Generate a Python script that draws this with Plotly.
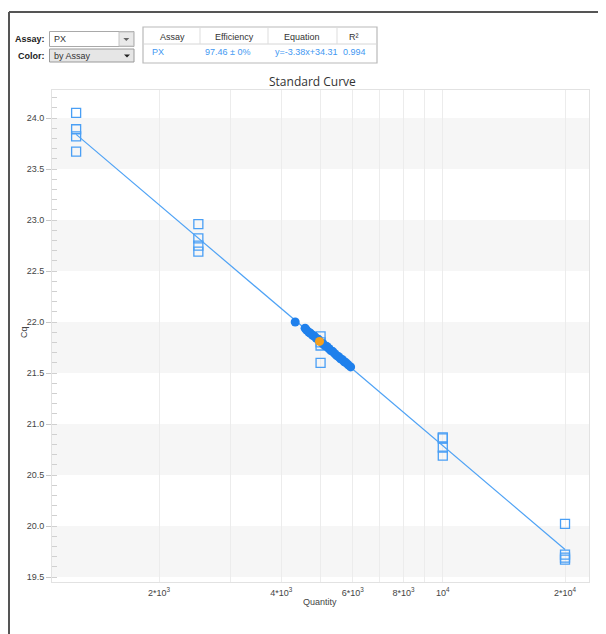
import plotly.graph_objects as go

# Page body has an 8px margin, so the figure is drawn 8px smaller and all
# reference pixel positions are shifted by 8px.
OFF = 8
W, H = 606 - OFF, 634 - OFF

# ---- Data ----
std_qty = [1250, 1250, 1250, 1250,
           2500, 2500, 2500, 2500,
           5000, 5000, 5000, 5000,
           10000, 10000, 10000, 10000,
           20000, 20000, 20000, 20000]
std_cq = [24.05, 23.89, 23.82, 23.67,
          22.96, 22.82, 22.75, 22.69,
          21.86, 21.80, 21.77, 21.60,
          20.87, 20.86, 20.77, 20.69,
          20.02, 19.72, 19.69, 19.67]

unk_qty = [4330, 4580, 4620, 4680, 4720, 4780, 4830, 4880, 4940, 5060,
           5120, 5180, 5240, 5300, 5360, 5420, 5480, 5540, 5600, 5660,
           5720, 5780, 5850, 5930]
unk_cq = [22.00, 21.94, 21.92, 21.90, 21.89, 21.87, 21.86, 21.84, 21.83, 21.79,
          21.77, 21.76, 21.74, 21.72, 21.71, 21.69, 21.67, 21.66, 21.64, 21.63,
          21.61, 21.60, 21.58, 21.56]

sel_qty = [4970]
sel_cq = [21.81]

fit_qty = [1250, 20000]
fit_cq = [23.84, 19.77]

y_ticks = [19.5, 20.0, 20.5, 21.0, 21.5, 22.0, 22.5, 23.0, 23.5, 24.0]
x_ticks = [2000, 4000, 6000, 8000, 10000, 20000]
x_ticktext = ["2*10<sup>3</sup>", "4*10<sup>3</sup>", "6*10<sup>3</sup>",
              "8*10<sup>3</sup>", "10<sup>4</sup>", "2*10<sup>4</sup>"]
x_minor = [3000, 5000, 7000, 9000]
bands = [(19.5, 20.0), (20.5, 21.0), (21.5, 22.0), (22.5, 23.0), (23.5, 24.0)]

table_header = ["Assay", "Efficiency", "Equation", "R²"]
table_row = ["PX", "97.46 ± 0%", "y=-3.38x+34.31", "0.994"]

# ---- helpers (reference page pixel -> paper) ----
def px(x):
    return (x - OFF) / W

def py(y):
    return 1 - (y - OFF) / H

FONT = "Liberation Sans, Arial, sans-serif"
BLUE = "#3f98f2"

fig = go.Figure()

fig.add_trace(go.Scatter(
    x=std_qty, y=std_cq, mode="markers",
    marker=dict(symbol="square-open", size=9, color="#4a9ff5", line=dict(width=1.3)),
    hoverinfo="x+y", showlegend=False))
fig.add_trace(go.Scatter(
    x=fit_qty, y=fit_cq, mode="lines",
    line=dict(color="#4ea2f5", width=1.2), hoverinfo="skip", showlegend=False))
fig.add_trace(go.Scatter(
    x=unk_qty, y=unk_cq, mode="markers",
    marker=dict(symbol="circle", size=9, color="#1f80ec"),
    showlegend=False))
fig.add_trace(go.Scatter(
    x=sel_qty, y=sel_cq, mode="markers",
    marker=dict(symbol="circle", size=9, color="#f5a01e"),
    showlegend=False))

shapes = []
for lo, hi in bands:
    shapes.append(dict(type="rect", xref="x domain", yref="y", x0=0, x1=1, y0=lo, y1=hi,
                       fillcolor="#f6f6f6", line=dict(width=0), layer="below"))

# outer frame
shapes.append(dict(type="line", xref="paper", yref="paper", x0=px(9), x1=1, y0=py(12), y1=py(12),
                   line=dict(color="#555555", width=2)))
shapes.append(dict(type="line", xref="paper", yref="paper", x0=px(9), x1=px(9), y0=py(12), y1=0,
                   line=dict(color="#555555", width=2)))

# combobox 1
shapes.append(dict(type="rect", xref="paper", yref="paper", x0=px(49.5), x1=px(134), y0=py(31.5), y1=py(46.5),
                   fillcolor="white", line=dict(color="#a9a9a9", width=1)))
shapes.append(dict(type="rect", xref="paper", yref="paper", x0=px(119), x1=px(133.5), y0=py(32), y1=py(46),
                   fillcolor="#e9e9e9", line=dict(color="#c4c4c4", width=1)))
tx, ty = 126.3, 39.5
shapes.append(dict(type="path", xref="paper", yref="paper",
                   path=f"M {px(tx-3)} {py(ty-1.5)} L {px(tx+3)} {py(ty-1.5)} L {px(tx)} {py(ty+1.5)} Z",
                   fillcolor="#666666", line=dict(width=0)))
# combobox 2
shapes.append(dict(type="rect", xref="paper", yref="paper", x0=px(49.5), x1=px(134), y0=py(49), y1=py(62),
                   fillcolor="#e6e6e6", line=dict(color="#9a9a9a", width=1)))
tx, ty = 127, 56
shapes.append(dict(type="path", xref="paper", yref="paper",
                   path=f"M {px(tx-3)} {py(ty-1.5)} L {px(tx+3)} {py(ty-1.5)} L {px(tx)} {py(ty+1.5)} Z",
                   fillcolor="#222222", line=dict(width=0)))

# table
shapes.append(dict(type="rect", xref="paper", yref="paper", x0=px(143), x1=px(377), y0=py(27), y1=py(63),
                   fillcolor="white", line=dict(color="#b9b9b9", width=1.2)))
shapes.append(dict(type="line", xref="paper", yref="paper", x0=px(144), x1=px(376), y0=py(44), y1=py(44),
                   line=dict(color="#d6d6d6", width=1)))
for sx in [200, 268, 337]:
    shapes.append(dict(type="line", xref="paper", yref="paper", x0=px(sx), x1=px(sx), y0=py(28), y1=py(44),
                       line=dict(color="#dddddd", width=1)))

annotations = []
def txt(x, y, s, size=9, color="#222", anchor="left", bold=False, font=FONT, angle=0):
    annotations.append(dict(xref="paper", yref="paper", x=px(x), y=py(y), text=(f"<b>{s}</b>" if bold else s),
                            showarrow=False, xanchor=anchor, yanchor="middle", textangle=angle,
                            font=dict(family=font, size=size, color=color)))

txt(47, 38.5, "Assay:", bold=True, anchor="right", color="#222")
txt(47, 56, "Color:", bold=True, anchor="right", color="#222")
txt(52, 38.5, "PX", color="#333")
txt(52, 56, "by Assay", color="#333")

for cx, s in zip([172, 234, 302, 354], table_header):
    txt(cx, 37.5, s, anchor="center", color="#333")
for lx, s in zip([150, 203, 273, 341], table_row):
    txt(lx, 52, s, anchor="left", color=BLUE)

txt(312, 81, "Standard Curve", size=12, color="#333", anchor="center",
    font="Open Sans, Noto Sans, sans-serif")
txt(320, 602, "Quantity", size=9, color="#444", anchor="center")
txt(24, 332, "Cq", size=9, color="#444", anchor="center", angle=-90)

fig.update_layout(
    width=W, height=H, autosize=False,
    margin=dict(l=0, r=0, t=0, b=0),
    paper_bgcolor="white", plot_bgcolor="white",
    shapes=shapes, annotations=annotations,
    font=dict(family=FONT, size=9, color="#444"),
    xaxis=dict(
        type="log", domain=[px(52), px(589)], range=[3.0375, 4.3601],
        tickmode="array", tickvals=x_ticks, ticktext=x_ticktext,
        showgrid=True, gridcolor="#ececec", gridwidth=1,
        ticks="", tickfont=dict(size=9, color="#444"),
        showline=True, mirror=True, linecolor="#e2e2e2", linewidth=1,
        zeroline=False, ticklabelstandoff=2,
        minor=dict(tickmode="array", tickvals=x_minor, showgrid=True, gridcolor="#ececec", ticks=""),
    ),
    yaxis=dict(
        domain=[py(582), py(90)], range=[19.451, 24.275],
        tickmode="array", tickvals=y_ticks, tickformat=".1f",
        showgrid=False, zeroline=False,
        ticks="outside", ticklen=5, tickcolor="#c8c8c8", tickwidth=1,
        tickfont=dict(size=9, color="#444"),
        showline=True, mirror=True, linecolor="#e2e2e2", linewidth=1,
        minor=dict(dtick=0.1, tick0=19.5, ticks="inside", ticklen=5, tickcolor="#d0d0d0",
                   tickwidth=1, showgrid=False),
    ),
)

fig.write_html("out.html", config={"displayModeBar": False})
